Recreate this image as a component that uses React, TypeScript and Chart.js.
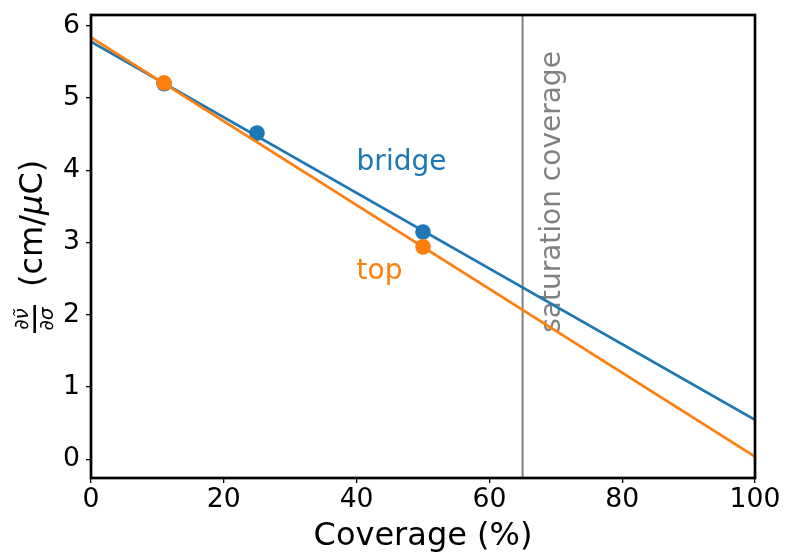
import React, { useEffect, useRef } from 'react';
import { Chart, registerables } from 'chart.js';

Chart.register(...registerables);

// ---- data ----
const fitX = [0, 100];
const bridgeFit = [5.78, 0.545];
const topFit = [5.84, 0.036];
const bridgeX = [11, 25, 50];
const bridgeY = [5.2, 4.515, 3.145];
const topX = [11, 50];
const topY = [5.21, 2.94];
const xTicks = [0, 20, 40, 60, 80, 100];
const yTicks = [0, 1, 2, 3, 4, 5, 6];
const xRange = [0, 100];
const yRange = [-0.26, 6.15];
const saturationCoverage = 65;
const bridgeLabelPos = [40, 4.0];
const topLabelPos = [40, 2.5];
const satLabelPos = [70.6, 1.75];

const BLUE = '#1f77b4';
const ORANGE = '#ff7f0e';
const GRAY = '#808080';
const FAMILY = "'DejaVu Sans', sans-serif";

type Run = { t: string; italic?: boolean };

function runsWidth(ctx: CanvasRenderingContext2D, runs: Run[], size: number) {
  let w = 0;
  for (const r of runs) {
    ctx.font = `${r.italic ? 'italic ' : ''}${size}px ${FAMILY}`;
    w += ctx.measureText(r.t).width;
  }
  return w;
}

function drawRuns(ctx: CanvasRenderingContext2D, runs: Run[], size: number, u: number, v: number) {
  let p = u;
  for (const r of runs) {
    ctx.font = `${r.italic ? 'italic ' : ''}${size}px ${FAMILY}`;
    ctx.fillText(r.t, p, v);
    p += ctx.measureText(r.t).width;
  }
}

const decor = {
  id: 'decor',
  beforeDatasetsDraw(chart: any) {
    const { ctx, chartArea: a, scales } = chart;
    const x = scales.x;
    const y = scales.y;
    ctx.save();
    ctx.beginPath();
    ctx.rect(a.left, a.top, a.right - a.left, a.bottom - a.top);
    ctx.clip();
    const px = x.getPixelForValue(saturationCoverage);
    ctx.strokeStyle = GRAY;
    ctx.lineWidth = 2;
    ctx.beginPath();
    ctx.moveTo(px, a.top);
    ctx.lineTo(px, a.bottom);
    ctx.stroke();
    ctx.translate(x.getPixelForValue(satLabelPos[0]), y.getPixelForValue(satLabelPos[1]));
    ctx.rotate(-Math.PI / 2);
    ctx.font = `28px ${FAMILY}`;
    ctx.fillStyle = GRAY;
    ctx.textAlign = 'left';
    ctx.textBaseline = 'alphabetic';
    ctx.fillText('saturation coverage', 0, 0);
    ctx.restore();
  },
  afterDatasetsDraw(chart: any) {
    const { ctx, chartArea: a, scales } = chart;
    const x = scales.x;
    const y = scales.y;
    ctx.save();
    ctx.font = `28px ${FAMILY}`;
    ctx.textAlign = 'left';
    ctx.textBaseline = 'alphabetic';
    ctx.fillStyle = BLUE;
    ctx.fillText('bridge', x.getPixelForValue(bridgeLabelPos[0]), y.getPixelForValue(bridgeLabelPos[1]));
    ctx.fillStyle = ORANGE;
    ctx.fillText('top', x.getPixelForValue(topLabelPos[0]), y.getPixelForValue(topLabelPos[1]));
    // frame
    ctx.strokeStyle = '#000';
    ctx.lineWidth = 2.7;
    ctx.strokeRect(a.left, a.top, a.right - a.left, a.bottom - a.top);
    ctx.restore();
  },
  afterDraw(chart: any) {
    const { ctx, chartArea: a } = chart;
    const cy = (a.top + a.bottom) / 2;
    ctx.save();
    ctx.translate(41.5, cy + 86.5);
    ctx.rotate(-Math.PI / 2);
    ctx.fillStyle = '#000';
    ctx.textAlign = 'left';
    ctx.textBaseline = 'alphabetic';
    // fraction
    const fs = 20;
    const num: Run[] = [{ t: '\u2202' }, { t: '\u03BD\u0303', italic: true }];
    const den: Run[] = [{ t: '\u2202' }, { t: '\u03C3', italic: true }];
    const fracW = 28;
    const nw = runsWidth(ctx, num, fs);
    const dw = runsWidth(ctx, den, fs);
    drawRuns(ctx, num, fs, fracW / 2 - nw / 2, -13.2);
    drawRuns(ctx, den, fs, fracW / 2 - dw / 2, 11.8);
    ctx.fillRect(0, -8.1, fracW, 2.6);
    // main text
    const main: Run[] = [{ t: '(cm/' }, { t: '\u03BC', italic: true }, { t: 'C)' }];
    drawRuns(ctx, main, 32, 46, 0);
    ctx.restore();
  },
};

export default function App() {
  const ref = useRef<HTMLCanvasElement | null>(null);

  useEffect(() => {
    if (!ref.current) return;
    Chart.defaults.font.family = FAMILY;
    const toPts = (xs: number[], ys: number[]) => xs.map((v, i) => ({ x: v, y: ys[i] }));
    const chart = new Chart(ref.current, {
      type: 'line',
      data: {
        datasets: [
          {
            label: 'top fit',
            data: toPts(fitX, topFit),
            borderColor: ORANGE,
            borderWidth: 2.8,
            pointRadius: 0,
            order: 0,
          },
          {
            label: 'top',
            data: toPts(topX, topY),
            showLine: false,
            pointRadius: 7.8,
            pointBorderWidth: 0,
            pointBackgroundColor: ORANGE,
            pointBorderColor: ORANGE,
            order: 1,
          },
          {
            label: 'bridge fit',
            data: toPts(fitX, bridgeFit),
            borderColor: BLUE,
            borderWidth: 2.8,
            pointRadius: 0,
            order: 2,
          },
          {
            label: 'bridge',
            data: toPts(bridgeX, bridgeY),
            showLine: false,
            pointRadius: 7.8,
            pointBorderWidth: 0,
            pointBackgroundColor: BLUE,
            pointBorderColor: BLUE,
            order: 3,
          },
        ],
      },
      options: {
        responsive: false,
        animation: false,
        events: [],
        layout: { padding: { left: 0, top: 15, right: 30, bottom: 0 } },
        plugins: { legend: { display: false }, tooltip: { enabled: false } },
        scales: {
          x: {
            type: 'linear',
            position: 'bottom',
            min: xRange[0],
            max: xRange[1],
            afterBuildTicks: (s: any) => {
              s.ticks = xTicks.map((v) => ({ value: v }));
            },
            afterFit: (s: any) => {
              s.height = 77;
              s.paddingLeft = 0;
              s.paddingRight = 0;
            },
            grid: {
              drawOnChartArea: false,
              drawTicks: true,
              tickLength: 5,
              color: '#000',
              lineWidth: 1.3,
            },
            border: { display: false },
            ticks: {
              color: '#000',
              font: { size: 26.67 },
              padding: 1,
              maxRotation: 0,
              autoSkip: false,
            },
            title: {
              display: true,
              text: 'Coverage (%)',
              color: '#000',
              font: { size: 32, lineHeight: 1.12 },
              padding: { top: 0, bottom: 0 },
            },
          },
          y: {
            type: 'linear',
            min: yRange[0],
            max: yRange[1],
            afterBuildTicks: (s: any) => {
              s.ticks = yTicks.map((v) => ({ value: v }));
            },
            afterFit: (s: any) => {
              s.width = 91;
              s.paddingTop = 0;
              s.paddingBottom = 0;
            },
            grid: {
              drawOnChartArea: false,
              drawTicks: true,
              tickLength: 5,
              color: '#000',
              lineWidth: 1.3,
            },
            border: { display: false },
            ticks: {
              color: '#000',
              font: { size: 26.67 },
              padding: 6,
              autoSkip: false,
            },
            title: { display: false },
          },
        },
      },
      plugins: [decor],
    });
    return () => chart.destroy();
  }, []);

  return (
    <div style={{ position: 'fixed', left: 0, top: 0, width: 785, height: 555, background: '#fff' }}>
      <canvas ref={ref} width={785} height={555} />
    </div>
  );
}
